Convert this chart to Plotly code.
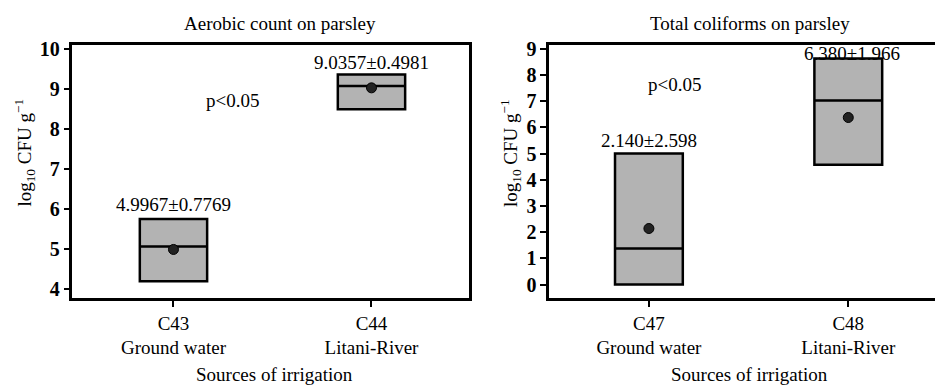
import plotly.graph_objects as go

# ---- data ----
cats_left = ["C43<br>Ground water", "C44<br>Litani-River"]
q1_left = [4.20, 8.50]
med_left = [5.07, 9.08]
q3_left = [5.76, 9.37]
mean_left = [4.9967, 9.0357]
sd_left = [0.7769, 0.4981]

cats_right = ["C47<br>Ground water", "C48<br>Litani-River"]
q1_right = [0.0, 4.58]
med_right = [1.38, 7.03]
q3_right = [5.01, 8.63]
mean_right = [2.140, 6.380]
sd_right = [2.598, 1.966]

titles = ["Aerobic count on parsley", "Total coliforms on parsley"]
FONT = "'Liberation Serif', 'Times New Roman', serif"
GRAY = "#b3b3b3"
FS = 19

fig = go.Figure()

def add_panel(cats, q1, med, q3, mean, xa, ya):
    xs = list(range(len(cats)))
    fig.add_trace(go.Box(
        x=xs, q1=q1, median=med, q3=q3, lowerfence=q1, upperfence=q3,
        width=0.34, fillcolor=GRAY, line=dict(color="black", width=2.5),
        xaxis=xa, yaxis=ya, showlegend=False, hoverinfo="skip"))
    fig.add_trace(go.Scatter(
        x=xs, y=mean, mode="markers",
        marker=dict(color="#222", size=10, line=dict(color="black", width=1)),
        xaxis=xa, yaxis=ya, showlegend=False, hoverinfo="skip"))

add_panel(cats_left, q1_left, med_left, q3_left, mean_left, "x", "y")
add_panel(cats_right, q1_right, med_right, q3_right, mean_right, "x2", "y2")

axis_common = dict(showline=True, linecolor="black", linewidth=2.5, mirror=True,
                   ticks="outside", ticklen=6, tickwidth=2, tickcolor="black",
                   showgrid=False, zeroline=False)
xfont = dict(family=FONT, size=FS, color="black")
yfont = dict(family=FONT, size=20, color="black", weight="bold")

# page has an 8px body margin; figure is sized to fit the 943x388 window
fig.update_layout(
    width=935, height=380, margin=dict(l=0, r=0, t=0, b=0),
    paper_bgcolor="white", plot_bgcolor="white",
    font=dict(family=FONT, size=FS, color="black"),
    xaxis=dict(domain=[0.0692, 0.4941], range=[-0.51, 1.49], tickfont=xfont,
               tickvals=[0, 1], ticktext=cats_left, **axis_common),
    yaxis=dict(domain=[0.2368, 0.9184], range=[3.78, 10.1], tickfont=yfont,
               tickvals=list(range(4, 11)), **axis_common),
    xaxis2=dict(domain=[0.5807, 1.0], range=[-0.5, 1.46], anchor="y2", tickfont=xfont,
                tickvals=[0, 1], ticktext=cats_right, **axis_common),
    yaxis2=dict(domain=[0.2368, 0.9184], range=[-0.52, 9.14], anchor="x2", tickfont=yfont,
                tickvals=list(range(0, 10)), **axis_common),
)

txt = dict(showarrow=False, xanchor="center", yanchor="middle")
ann = []
# panel titles and x titles
for t, xp, xt in zip(titles, [0.292, 0.7957], [0.2856, 0.7957]):
    ann.append(dict(text=t, x=xp, y=0.9763, xref="paper", yref="paper", **txt))
    ann.append(dict(text="Sources of irrigation", x=xt, y=0.0316,
                    xref="paper", yref="paper", **txt))
for xp in [0.0182, 0.539]:
    ann.append(dict(text="log<sub>10</sub> CFU g<sup>−1</sup>", x=xp, y=0.629,
                    xref="paper", yref="paper", textangle=-90, **txt))
# value labels
lab_y_left = [6.12, 9.66]
for i, (m, s) in enumerate(zip(mean_left, sd_left)):
    ann.append(dict(text=f"{m:.4f}±{s:.4f}", x=i, y=lab_y_left[i],
                    xref="x", yref="y", **txt))
lab_y_right = [5.52, 8.84]
for i, (m, s) in enumerate(zip(mean_right, sd_right)):
    ann.append(dict(text=f"{m:.3f}±{s:.3f}", x=i + (0.02 if i else 0), y=lab_y_right[i],
                    xref="x2", yref="y2", **txt))
ann.append(dict(text="p<0.05", x=0.30, y=8.73, xref="x", yref="y", **txt))
ann.append(dict(text="p<0.05", x=0.13, y=7.65, xref="x2", yref="y2", **txt))
fig.update_layout(annotations=ann)

fig.write_html("out.html")
